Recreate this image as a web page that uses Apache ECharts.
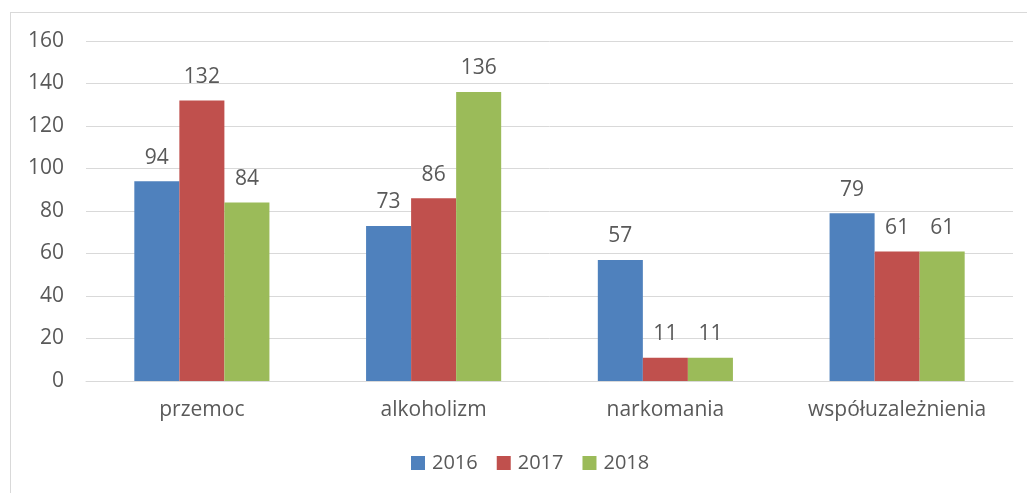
<!DOCTYPE html>
<html><head><meta charset="utf-8">
<script src="https://cdn.jsdelivr.net/npm/echarts@6/dist/echarts.min.js"></script>
<style>html,body{margin:0;padding:0;background:#fff}#c{width:1027px;height:493px}
#b{position:absolute;left:10px;top:12px;width:1030px;height:500px;border:1px solid #d9d9d9;box-sizing:border-box;pointer-events:none}</style>
</head><body><div id="c"></div><div id="b"></div>
<script>
const categories = ['przemoc', 'alkoholizm', 'narkomania', 'współuzależnienia'];
const years = ['2016', '2017', '2018'];
const v2016 = [94, 73, 57, 79];
const v2017 = [132, 86, 11, 61];
const v2018 = [84, 136, 11, 61];
const colors = ['#4F81BD', '#C0504D', '#9BBB59'];
const font = '"Open Sans", sans-serif';
const txt = '#595959';
const fs = 21;
const chart = echarts.init(document.getElementById('c'));
const mk = (name, data, i) => ({
  name, type: 'bar', data, barGap: 0, barCategoryGap: '41.7%',
  itemStyle: { color: colors[i] },
  label: { show: true, position: 'top', distance: 13, color: txt, fontFamily: font, fontSize: fs }
});
chart.setOption({
  animation: false,
  textStyle: { fontFamily: font },
  grid: { left: 86, right: 14, top: 41, bottom: 112, containLabel: false },
  legend: { bottom: 15, left: 406, itemWidth: 14, itemHeight: 14, itemGap: 19,
    textStyle: { color: txt, fontSize: 20, fontFamily: font, padding: [0, 0, 0, 2] }, icon: 'rect' },
  xAxis: { type: 'category', data: categories,
    axisLine: { lineStyle: { color: '#d9d9d9', width: 1 } }, axisTick: { show: false },
    axisLabel: { color: txt, fontSize: fs, fontFamily: font, margin: 19 } },
  yAxis: { type: 'value', min: 0, max: 160, interval: 20,
    axisLine: { show: false }, axisTick: { show: false },
    splitLine: { lineStyle: { color: '#d9d9d9', width: 1 } },
    axisLabel: { color: txt, fontSize: fs, fontFamily: font, margin: 22 } },
  series: [mk(years[0], v2016, 0), mk(years[1], v2017, 1), mk(years[2], v2018, 2)]
});
</script></body></html>
